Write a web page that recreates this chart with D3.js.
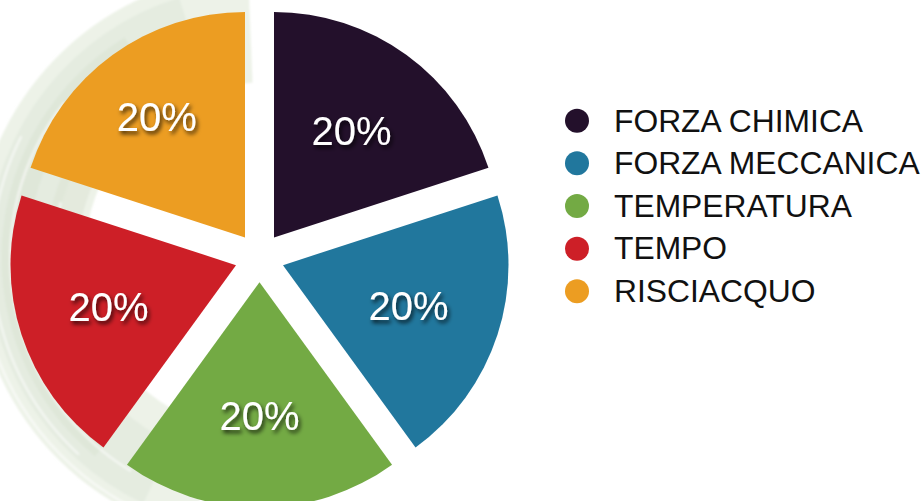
<!DOCTYPE html>
<html>
<head>
<meta charset="utf-8">
<script src="https://cdn.jsdelivr.net/npm/d3@7"></script>
<style>
  html, body { margin: 0; padding: 0; background: #ffffff; }
  svg { display: block; }
</style>
</head>
<body>
<svg id="chart" width="923" height="501"></svg>
<script>
// ---- data ----
const categories = ["FORZA CHIMICA", "FORZA MECCANICA", "TEMPERATURA", "TEMPO", "RISCIACQUO"];
const values = [20, 20, 20, 20, 20];
const colors = ["#23102b", "#21779d", "#73aa44", "#cd1f27", "#ec9d22"];

// ---- layout ----
const W = 923, H = 501;
const cx = 259.5, cy = 257.5;
const R = 225.5;
const explode = 24.7;
const labelR = [132, 132, 133, 134, 150];
const FONT = "'Helvetica Neue', Helvetica, Arial, 'Liberation Sans', sans-serif";

const svg = d3.select("#chart");

// drop shadow for labels
const defs = svg.append("defs");
const f = defs.append("filter").attr("id", "shadow")
  .attr("x", "-30%").attr("y", "-30%").attr("width", "160%").attr("height", "170%");
f.append("feDropShadow").attr("dx", 2).attr("dy", 3).attr("stdDeviation", 2.2)
  .attr("flood-color", "#000").attr("flood-opacity", 0.75);
const blur = defs.append("filter").attr("id", "soft");
blur.append("feGaussianBlur").attr("stdDeviation", 1.2);

// ---- decorative brush texture behind the pie ----
const bg = svg.append("g").attr("transform", `translate(${cx},${cy})`).attr("filter", "url(#soft)");
const bands = [
  { r0: 175, r1: 285, a0: -2.9, a1: -0.04, c: "#e8efe2", o: 0.8 },
  { r0: 205, r1: 272, a0: -2.7, a1: -0.3, c: "#dfe7d9", o: 0.55 },
  { r0: 232, r1: 258, a0: -2.45, a1: -0.55, c: "#d8e0d1", o: 0.45 },
  { r0: 182, r1: 214, a0: -2.2, a1: -1.0, c: "#dbe3d3", o: 0.5 }
];
bands.forEach(b => {
  bg.append("path")
    .attr("d", d3.arc().innerRadius(b.r0).outerRadius(b.r1).startAngle(b.a0).endAngle(b.a1)())
    .attr("fill", b.c).attr("opacity", b.o);
});
// light streaks
const streaks = [
  [248, -2.6, -0.9], [226, -2.3, -1.4], [266, -2.4, -1.1], [205, -2.0, -1.3], [279, -2.8, -1.9], [192, -1.9, -1.4]
];
streaks.forEach(s => {
  bg.append("path")
    .attr("d", d3.arc().innerRadius(s[0]).outerRadius(s[0] + 2.5).startAngle(s[1]).endAngle(s[2])())
    .attr("fill", "#ffffff").attr("opacity", 0.55);
});

// ---- pie ----
const pie = d3.pie().sort(null).value(d => d);
const arcs = pie(values);
const arc = d3.arc().innerRadius(0).outerRadius(R);
const total = d3.sum(values);

const g = svg.append("g").attr("transform", `translate(${cx},${cy})`);
const slice = g.selectAll("g.slice").data(arcs).join("g")
  .attr("class", "slice")
  .attr("transform", d => {
    const m = (d.startAngle + d.endAngle) / 2;
    return `translate(${explode * Math.sin(m)},${-explode * Math.cos(m)})`;
  });

slice.append("path")
  .attr("d", arc)
  .attr("fill", (d, i) => colors[i]);

slice.append("text")
  .attr("transform", (d, i) => {
    const m = (d.startAngle + d.endAngle) / 2;
    return `translate(${labelR[i] * Math.sin(m)},${-labelR[i] * Math.cos(m)})`;
  })
  .attr("dy", "0.36em")
  .attr("text-anchor", "middle")
  .attr("font-family", FONT)
  .attr("font-size", 40)
  .attr("fill", "#ffffff")
  .attr("filter", "url(#shadow)")
  .text(d => `${Math.round(d.value / total * 100)}%`);

// ---- legend ----
const legend = svg.append("g").attr("transform", "translate(577,120.7)");
const step = 42.65;
const item = legend.selectAll("g").data(categories).join("g")
  .attr("transform", (d, i) => `translate(0,${i * step})`);
item.append("circle").attr("r", 12).attr("fill", (d, i) => colors[i]);
item.append("text")
  .attr("x", 37).attr("y", 10.8)
  .attr("font-family", FONT)
  .attr("font-size", 31.8)
  .attr("fill", "#111111")
  .text(d => d);
</script>
</body>
</html>
